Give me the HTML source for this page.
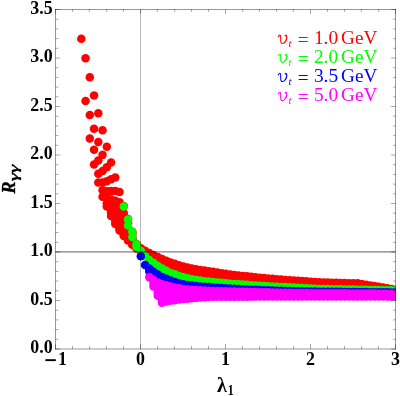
<!DOCTYPE html>
<html><head><meta charset="utf-8"><title>R gamma gamma vs lambda1</title>
<style>html,body{margin:0;padding:0;background:#fff;}body{width:400px;height:396px;overflow:hidden;font-family:"Liberation Serif",serif;}svg{display:block;will-change:transform;}</style></head>
<body>
<svg width="400" height="396" viewBox="0 0 400 396">
<defs><clipPath id="pc"><rect x="55" y="9" width="340.9" height="340.5"/></clipPath></defs>
<rect x="0" y="0" width="400" height="396" fill="#ffffff"/>
<g clip-path="url(#pc)">
<circle cx="81.3" cy="38.7" r="4.25" fill="#ff0000"/>
<circle cx="85.55" cy="58.3" r="4.25" fill="#ff0000"/>
<circle cx="89.8" cy="77.25" r="4.25" fill="#ff0000"/>
<circle cx="94.05" cy="95.57" r="4.25" fill="#ff0000"/>
<circle cx="98.3" cy="113.25" r="4.25" fill="#ff0000"/>
<circle cx="102.55" cy="130.29" r="4.25" fill="#ff0000"/>
<circle cx="106.8" cy="146.69" r="4.25" fill="#ff0000"/>
<circle cx="111.05" cy="162.45" r="4.25" fill="#ff0000"/>
<circle cx="115.3" cy="177.58" r="4.25" fill="#ff0000"/>
<circle cx="119.55" cy="192.06" r="4.25" fill="#ff0000"/>
<circle cx="123.8" cy="205.9" r="4.25" fill="#ff0000"/>
<circle cx="128.05" cy="219.11" r="4.25" fill="#ff0000"/>
<circle cx="132.3" cy="231.7" r="4.25" fill="#ff0000"/>
<circle cx="136.55" cy="244.3" r="4.25" fill="#ff0000"/>
<circle cx="85.55" cy="101" r="4.25" fill="#ff0000"/>
<circle cx="89.8" cy="115.09" r="4.25" fill="#ff0000"/>
<circle cx="94.05" cy="128.76" r="4.25" fill="#ff0000"/>
<circle cx="98.3" cy="142.02" r="4.25" fill="#ff0000"/>
<circle cx="102.55" cy="154.87" r="4.25" fill="#ff0000"/>
<circle cx="106.8" cy="167.31" r="4.25" fill="#ff0000"/>
<circle cx="111.05" cy="179.34" r="4.25" fill="#ff0000"/>
<circle cx="115.3" cy="190.96" r="4.25" fill="#ff0000"/>
<circle cx="119.55" cy="202.16" r="4.25" fill="#ff0000"/>
<circle cx="123.8" cy="212.95" r="4.25" fill="#ff0000"/>
<circle cx="128.05" cy="223.33" r="4.25" fill="#ff0000"/>
<circle cx="132.3" cy="233.3" r="4.25" fill="#ff0000"/>
<circle cx="136.55" cy="244.3" r="4.25" fill="#ff0000"/>
<circle cx="89.8" cy="138.6" r="4.25" fill="#ff0000"/>
<circle cx="94.05" cy="149.71" r="4.25" fill="#ff0000"/>
<circle cx="98.3" cy="160.51" r="4.25" fill="#ff0000"/>
<circle cx="102.55" cy="171.02" r="4.25" fill="#ff0000"/>
<circle cx="106.8" cy="181.22" r="4.25" fill="#ff0000"/>
<circle cx="111.05" cy="191.12" r="4.25" fill="#ff0000"/>
<circle cx="115.3" cy="200.72" r="4.25" fill="#ff0000"/>
<circle cx="119.55" cy="210.02" r="4.25" fill="#ff0000"/>
<circle cx="123.8" cy="219.02" r="4.25" fill="#ff0000"/>
<circle cx="128.05" cy="227.72" r="4.25" fill="#ff0000"/>
<circle cx="132.3" cy="236.11" r="4.25" fill="#ff0000"/>
<circle cx="136.55" cy="244.3" r="4.25" fill="#ff0000"/>
<circle cx="94.05" cy="164.6" r="4.25" fill="#ff0000"/>
<circle cx="98.3" cy="173.7" r="4.25" fill="#ff0000"/>
<circle cx="102.55" cy="182.56" r="4.25" fill="#ff0000"/>
<circle cx="106.8" cy="191.2" r="4.25" fill="#ff0000"/>
<circle cx="111.05" cy="199.6" r="4.25" fill="#ff0000"/>
<circle cx="115.3" cy="207.78" r="4.25" fill="#ff0000"/>
<circle cx="119.55" cy="215.72" r="4.25" fill="#ff0000"/>
<circle cx="123.8" cy="223.44" r="4.25" fill="#ff0000"/>
<circle cx="128.05" cy="230.92" r="4.25" fill="#ff0000"/>
<circle cx="132.3" cy="238.18" r="4.25" fill="#ff0000"/>
<circle cx="136.55" cy="245.2" r="4.25" fill="#ff0000"/>
<circle cx="98.3" cy="182.5" r="4.25" fill="#ff0000"/>
<circle cx="102.55" cy="190.29" r="4.25" fill="#ff0000"/>
<circle cx="106.8" cy="197.89" r="4.25" fill="#ff0000"/>
<circle cx="111.05" cy="205.31" r="4.25" fill="#ff0000"/>
<circle cx="115.3" cy="212.54" r="4.25" fill="#ff0000"/>
<circle cx="119.55" cy="219.58" r="4.25" fill="#ff0000"/>
<circle cx="123.8" cy="226.44" r="4.25" fill="#ff0000"/>
<circle cx="128.05" cy="233.11" r="4.25" fill="#ff0000"/>
<circle cx="132.3" cy="239.59" r="4.25" fill="#ff0000"/>
<circle cx="136.55" cy="245.89" r="4.25" fill="#ff0000"/>
<circle cx="102.55" cy="196.7" r="4.25" fill="#ff0000"/>
<circle cx="106.8" cy="203.46" r="4.25" fill="#ff0000"/>
<circle cx="111.05" cy="210.06" r="4.25" fill="#ff0000"/>
<circle cx="115.3" cy="216.51" r="4.25" fill="#ff0000"/>
<circle cx="119.55" cy="222.81" r="4.25" fill="#ff0000"/>
<circle cx="123.8" cy="228.96" r="4.25" fill="#ff0000"/>
<circle cx="128.05" cy="234.95" r="4.25" fill="#ff0000"/>
<circle cx="132.3" cy="240.78" r="4.25" fill="#ff0000"/>
<circle cx="136.55" cy="246.47" r="4.25" fill="#ff0000"/>
<circle cx="106.8" cy="206.4" r="4.25" fill="#ff0000"/>
<circle cx="111.05" cy="212.58" r="4.25" fill="#ff0000"/>
<circle cx="115.3" cy="218.62" r="4.25" fill="#ff0000"/>
<circle cx="119.55" cy="224.53" r="4.25" fill="#ff0000"/>
<circle cx="123.8" cy="230.29" r="4.25" fill="#ff0000"/>
<circle cx="128.05" cy="235.93" r="4.25" fill="#ff0000"/>
<circle cx="132.3" cy="241.42" r="4.25" fill="#ff0000"/>
<circle cx="136.55" cy="246.78" r="4.25" fill="#ff0000"/>
<circle cx="111.05" cy="215.9" r="4.25" fill="#ff0000"/>
<circle cx="115.3" cy="221.41" r="4.25" fill="#ff0000"/>
<circle cx="119.55" cy="226.8" r="4.25" fill="#ff0000"/>
<circle cx="123.8" cy="232.07" r="4.25" fill="#ff0000"/>
<circle cx="128.05" cy="237.23" r="4.25" fill="#ff0000"/>
<circle cx="132.3" cy="242.27" r="4.25" fill="#ff0000"/>
<circle cx="136.55" cy="247.19" r="4.25" fill="#ff0000"/>
<circle cx="115.3" cy="224.1" r="4.25" fill="#ff0000"/>
<circle cx="119.55" cy="228.99" r="4.25" fill="#ff0000"/>
<circle cx="123.8" cy="233.79" r="4.25" fill="#ff0000"/>
<circle cx="128.05" cy="238.49" r="4.25" fill="#ff0000"/>
<circle cx="132.3" cy="243.09" r="4.25" fill="#ff0000"/>
<circle cx="136.55" cy="247.59" r="4.25" fill="#ff0000"/>
<circle cx="119.55" cy="230.4" r="4.25" fill="#ff0000"/>
<circle cx="123.8" cy="234.89" r="4.25" fill="#ff0000"/>
<circle cx="128.05" cy="239.3" r="4.25" fill="#ff0000"/>
<circle cx="132.3" cy="243.62" r="4.25" fill="#ff0000"/>
<circle cx="136.55" cy="247.85" r="4.25" fill="#ff0000"/>
<circle cx="123.8" cy="236" r="4.25" fill="#ff0000"/>
<circle cx="128.05" cy="240.11" r="4.25" fill="#ff0000"/>
<circle cx="132.3" cy="244.15" r="4.25" fill="#ff0000"/>
<circle cx="136.55" cy="248.11" r="4.25" fill="#ff0000"/>
<circle cx="128.05" cy="240.5" r="4.25" fill="#ff0000"/>
<circle cx="132.3" cy="244.4" r="4.25" fill="#ff0000"/>
<circle cx="136.55" cy="248.24" r="4.25" fill="#ff0000"/>
<circle cx="132.3" cy="244.3" r="4.25" fill="#ff0000"/>
<circle cx="136.55" cy="248.19" r="4.25" fill="#ff0000"/>
<circle cx="136.55" cy="246" r="4.25" fill="#ff0000"/>
<rect x="136.55" y="243.98" width="8.5" height="11.28" rx="4.25" fill="#ff0000"/>
<rect x="140.8" y="246.48" width="8.5" height="13.86" rx="4.25" fill="#ff0000"/>
<rect x="145.05" y="248.8" width="8.5" height="15.35" rx="4.25" fill="#ff0000"/>
<rect x="149.3" y="250.88" width="8.5" height="25.11" rx="4.25" fill="#ff0000"/>
<rect x="153.55" y="252.8" width="8.5" height="26.01" rx="4.25" fill="#ff0000"/>
<rect x="157.8" y="254.64" width="8.5" height="26.64" rx="4.25" fill="#ff0000"/>
<rect x="162.05" y="256.4" width="8.5" height="26.5" rx="4.25" fill="#ff0000"/>
<rect x="166.3" y="258.14" width="8.5" height="26.7" rx="4.25" fill="#ff0000"/>
<rect x="170.55" y="259.43" width="8.5" height="26.7" rx="4.25" fill="#ff0000"/>
<rect x="174.8" y="260.96" width="8.5" height="26.63" rx="4.25" fill="#ff0000"/>
<rect x="179.05" y="262.2" width="8.5" height="26.32" rx="4.25" fill="#ff0000"/>
<rect x="183.3" y="263.29" width="8.5" height="25.95" rx="4.25" fill="#ff0000"/>
<rect x="187.55" y="264.26" width="8.5" height="25.59" rx="4.25" fill="#ff0000"/>
<rect x="191.8" y="265.01" width="8.5" height="25.29" rx="4.25" fill="#ff0000"/>
<rect x="196.05" y="265.74" width="8.5" height="24.98" rx="4.25" fill="#ff0000"/>
<rect x="200.3" y="266.34" width="8.5" height="24.73" rx="4.25" fill="#ff0000"/>
<rect x="204.55" y="266.98" width="8.5" height="24.39" rx="4.25" fill="#ff0000"/>
<rect x="208.8" y="267.62" width="8.5" height="24.04" rx="4.25" fill="#ff0000"/>
<rect x="213.05" y="268.27" width="8.5" height="23.7" rx="4.25" fill="#ff0000"/>
<rect x="217.3" y="268.91" width="8.5" height="23.35" rx="4.25" fill="#ff0000"/>
<rect x="221.55" y="269.56" width="8.5" height="23.01" rx="4.25" fill="#ff0000"/>
<rect x="225.8" y="270.2" width="8.5" height="22.66" rx="4.25" fill="#ff0000"/>
<rect x="230.05" y="270.75" width="8.5" height="22.36" rx="4.25" fill="#ff0000"/>
<rect x="234.3" y="271.2" width="8.5" height="22.1" rx="4.25" fill="#ff0000"/>
<rect x="238.55" y="271.66" width="8.5" height="21.84" rx="4.25" fill="#ff0000"/>
<rect x="242.8" y="272.11" width="8.5" height="21.59" rx="4.25" fill="#ff0000"/>
<rect x="247.05" y="272.57" width="8.5" height="21.33" rx="4.25" fill="#ff0000"/>
<rect x="251.3" y="273.02" width="8.5" height="21.07" rx="4.25" fill="#ff0000"/>
<rect x="255.55" y="273.48" width="8.5" height="20.81" rx="4.25" fill="#ff0000"/>
<rect x="259.8" y="273.85" width="8.5" height="20.6" rx="4.25" fill="#ff0000"/>
<rect x="264.05" y="274.21" width="8.5" height="20.39" rx="4.25" fill="#ff0000"/>
<rect x="268.3" y="274.58" width="8.5" height="20.17" rx="4.25" fill="#ff0000"/>
<rect x="272.55" y="274.94" width="8.5" height="19.96" rx="4.25" fill="#ff0000"/>
<rect x="276.8" y="275.3" width="8.5" height="19.75" rx="4.25" fill="#ff0000"/>
<rect x="281.05" y="275.67" width="8.5" height="19.54" rx="4.25" fill="#ff0000"/>
<rect x="285.3" y="276" width="8.5" height="19.33" rx="4.25" fill="#ff0000"/>
<rect x="289.55" y="276.28" width="8.5" height="19.13" rx="4.25" fill="#ff0000"/>
<rect x="293.8" y="276.56" width="8.5" height="18.93" rx="4.25" fill="#ff0000"/>
<rect x="298.05" y="276.84" width="8.5" height="18.73" rx="4.25" fill="#ff0000"/>
<rect x="302.3" y="277.12" width="8.5" height="18.53" rx="4.25" fill="#ff0000"/>
<rect x="306.55" y="277.4" width="8.5" height="18.33" rx="4.25" fill="#ff0000"/>
<rect x="310.8" y="277.68" width="8.5" height="18.13" rx="4.25" fill="#ff0000"/>
<rect x="315.05" y="277.95" width="8.5" height="17.93" rx="4.25" fill="#ff0000"/>
<rect x="319.3" y="278.13" width="8.5" height="17.8" rx="4.25" fill="#ff0000"/>
<rect x="323.55" y="278.28" width="8.5" height="17.69" rx="4.25" fill="#ff0000"/>
<rect x="327.8" y="278.44" width="8.5" height="17.57" rx="4.25" fill="#ff0000"/>
<rect x="332.05" y="278.59" width="8.5" height="17.46" rx="4.25" fill="#ff0000"/>
<rect x="336.3" y="278.75" width="8.5" height="17.34" rx="4.25" fill="#ff0000"/>
<rect x="340.55" y="278.84" width="8.5" height="17.3" rx="4.25" fill="#ff0000"/>
<rect x="344.8" y="278.89" width="8.5" height="17.29" rx="4.25" fill="#ff0000"/>
<rect x="349.05" y="278.94" width="8.5" height="17.29" rx="4.25" fill="#ff0000"/>
<rect x="353.3" y="278.99" width="8.5" height="17.28" rx="4.25" fill="#ff0000"/>
<rect x="357.55" y="279.66" width="8.5" height="16.66" rx="4.25" fill="#ff0000"/>
<rect x="361.8" y="280.4" width="8.5" height="15.97" rx="4.25" fill="#ff0000"/>
<rect x="366.05" y="281.13" width="8.5" height="15.29" rx="4.25" fill="#ff0000"/>
<rect x="370.3" y="281.87" width="8.5" height="14.6" rx="4.25" fill="#ff0000"/>
<rect x="374.55" y="282.61" width="8.5" height="13.91" rx="4.25" fill="#ff0000"/>
<rect x="378.8" y="283.34" width="8.5" height="13.22" rx="4.25" fill="#ff0000"/>
<rect x="383.05" y="284.08" width="8.5" height="12.53" rx="4.25" fill="#ff0000"/>
<rect x="387.3" y="284.82" width="8.5" height="11.84" rx="4.25" fill="#ff0000"/>
<rect x="391.55" y="285.5" width="8.5" height="11.2" rx="4.25" fill="#ff0000"/>
<circle cx="123.8" cy="206.4" r="4.25" fill="#00ff00"/>
<circle cx="128.05" cy="219.4" r="4.25" fill="#00ff00"/>
<circle cx="128.05" cy="225.5" r="4.25" fill="#00ff00"/>
<circle cx="132.3" cy="231.7" r="4.25" fill="#00ff00"/>
<circle cx="132.3" cy="236.9" r="4.25" fill="#00ff00"/>
<circle cx="136.55" cy="244.3" r="4.25" fill="#00ff00"/>
<circle cx="136.55" cy="246.8" r="4.25" fill="#00ff00"/>
<rect x="136.55" y="246.76" width="8.5" height="8.5" rx="4.25" fill="#00ff00"/>
<rect x="140.8" y="251.84" width="8.5" height="8.5" rx="4.25" fill="#00ff00"/>
<rect x="145.05" y="255.65" width="8.5" height="17.15" rx="4.25" fill="#00ff00"/>
<rect x="149.3" y="258.81" width="8.5" height="17.17" rx="4.25" fill="#00ff00"/>
<rect x="153.55" y="261.67" width="8.5" height="17.14" rx="4.25" fill="#00ff00"/>
<rect x="157.8" y="264.15" width="8.5" height="17.12" rx="4.25" fill="#00ff00"/>
<rect x="162.05" y="266.4" width="8.5" height="16.5" rx="4.25" fill="#00ff00"/>
<rect x="166.3" y="268.65" width="8.5" height="16.18" rx="4.25" fill="#00ff00"/>
<rect x="170.55" y="270.09" width="8.5" height="16.04" rx="4.25" fill="#00ff00"/>
<rect x="174.8" y="271.73" width="8.5" height="15.85" rx="4.25" fill="#00ff00"/>
<rect x="179.05" y="272.97" width="8.5" height="15.55" rx="4.25" fill="#00ff00"/>
<rect x="183.3" y="274.02" width="8.5" height="15.22" rx="4.25" fill="#00ff00"/>
<rect x="187.55" y="274.95" width="8.5" height="14.91" rx="4.25" fill="#00ff00"/>
<rect x="191.8" y="275.65" width="8.5" height="14.64" rx="4.25" fill="#00ff00"/>
<rect x="196.05" y="276.34" width="8.5" height="14.38" rx="4.25" fill="#00ff00"/>
<rect x="200.3" y="276.94" width="8.5" height="14.13" rx="4.25" fill="#00ff00"/>
<rect x="204.55" y="277.37" width="8.5" height="14" rx="4.25" fill="#00ff00"/>
<rect x="208.8" y="277.78" width="8.5" height="13.89" rx="4.25" fill="#00ff00"/>
<rect x="213.05" y="278.18" width="8.5" height="13.78" rx="4.25" fill="#00ff00"/>
<rect x="217.3" y="278.59" width="8.5" height="13.67" rx="4.25" fill="#00ff00"/>
<rect x="221.55" y="279" width="8.5" height="13.56" rx="4.25" fill="#00ff00"/>
<rect x="225.8" y="279.41" width="8.5" height="13.45" rx="4.25" fill="#00ff00"/>
<rect x="230.05" y="279.76" width="8.5" height="13.35" rx="4.25" fill="#00ff00"/>
<rect x="234.3" y="280.04" width="8.5" height="13.26" rx="4.25" fill="#00ff00"/>
<rect x="238.55" y="280.33" width="8.5" height="13.17" rx="4.25" fill="#00ff00"/>
<rect x="242.8" y="280.62" width="8.5" height="13.08" rx="4.25" fill="#00ff00"/>
<rect x="247.05" y="280.91" width="8.5" height="12.99" rx="4.25" fill="#00ff00"/>
<rect x="251.3" y="281.2" width="8.5" height="12.9" rx="4.25" fill="#00ff00"/>
<rect x="255.55" y="281.49" width="8.5" height="12.8" rx="4.25" fill="#00ff00"/>
<rect x="259.8" y="281.72" width="8.5" height="12.73" rx="4.25" fill="#00ff00"/>
<rect x="264.05" y="281.94" width="8.5" height="12.65" rx="4.25" fill="#00ff00"/>
<rect x="268.3" y="282.17" width="8.5" height="12.58" rx="4.25" fill="#00ff00"/>
<rect x="272.55" y="282.4" width="8.5" height="12.5" rx="4.25" fill="#00ff00"/>
<rect x="276.8" y="282.63" width="8.5" height="12.42" rx="4.25" fill="#00ff00"/>
<rect x="281.05" y="282.86" width="8.5" height="12.35" rx="4.25" fill="#00ff00"/>
<rect x="285.3" y="283.08" width="8.5" height="12.25" rx="4.25" fill="#00ff00"/>
<rect x="289.55" y="283.31" width="8.5" height="12.1" rx="4.25" fill="#00ff00"/>
<rect x="293.8" y="283.53" width="8.5" height="11.95" rx="4.25" fill="#00ff00"/>
<rect x="298.05" y="283.76" width="8.5" height="11.81" rx="4.25" fill="#00ff00"/>
<rect x="302.3" y="283.99" width="8.5" height="11.66" rx="4.25" fill="#00ff00"/>
<rect x="306.55" y="284.21" width="8.5" height="11.52" rx="4.25" fill="#00ff00"/>
<rect x="310.8" y="284.44" width="8.5" height="11.37" rx="4.25" fill="#00ff00"/>
<rect x="315.05" y="284.66" width="8.5" height="11.22" rx="4.25" fill="#00ff00"/>
<rect x="319.3" y="284.76" width="8.5" height="11.17" rx="4.25" fill="#00ff00"/>
<rect x="323.55" y="284.84" width="8.5" height="11.13" rx="4.25" fill="#00ff00"/>
<rect x="327.8" y="284.92" width="8.5" height="11.09" rx="4.25" fill="#00ff00"/>
<rect x="332.05" y="285" width="8.5" height="11.05" rx="4.25" fill="#00ff00"/>
<rect x="336.3" y="285.07" width="8.5" height="11.01" rx="4.25" fill="#00ff00"/>
<rect x="340.55" y="285.16" width="8.5" height="10.97" rx="4.25" fill="#00ff00"/>
<rect x="344.8" y="285.24" width="8.5" height="10.93" rx="4.25" fill="#00ff00"/>
<rect x="349.05" y="285.33" width="8.5" height="10.89" rx="4.25" fill="#00ff00"/>
<rect x="353.3" y="285.42" width="8.5" height="10.85" rx="4.25" fill="#00ff00"/>
<rect x="357.55" y="285.51" width="8.5" height="10.81" rx="4.25" fill="#00ff00"/>
<rect x="361.8" y="285.59" width="8.5" height="10.78" rx="4.25" fill="#00ff00"/>
<rect x="366.05" y="285.68" width="8.5" height="10.74" rx="4.25" fill="#00ff00"/>
<rect x="370.3" y="285.77" width="8.5" height="10.7" rx="4.25" fill="#00ff00"/>
<rect x="374.55" y="285.86" width="8.5" height="10.66" rx="4.25" fill="#00ff00"/>
<rect x="378.8" y="285.94" width="8.5" height="10.62" rx="4.25" fill="#00ff00"/>
<rect x="383.05" y="286.03" width="8.5" height="10.58" rx="4.25" fill="#00ff00"/>
<rect x="387.3" y="286.12" width="8.5" height="10.54" rx="4.25" fill="#00ff00"/>
<rect x="391.55" y="286.2" width="8.5" height="10.5" rx="4.25" fill="#00ff00"/>
<rect x="136.55" y="252.05" width="8.5" height="8.5" rx="4.25" fill="#0000ff"/>
<rect x="140.8" y="260.85" width="8.5" height="8.5" rx="4.25" fill="#0000ff"/>
<rect x="145.05" y="264.3" width="8.5" height="11.5" rx="4.25" fill="#0000ff"/>
<rect x="149.3" y="267.49" width="8.5" height="16.69" rx="4.25" fill="#0000ff"/>
<rect x="153.55" y="270.31" width="8.5" height="16.32" rx="4.25" fill="#0000ff"/>
<rect x="157.8" y="272.77" width="8.5" height="15.65" rx="4.25" fill="#0000ff"/>
<rect x="162.05" y="274.4" width="8.5" height="15.19" rx="4.25" fill="#0000ff"/>
<rect x="166.3" y="276.34" width="8.5" height="14.38" rx="4.25" fill="#0000ff"/>
<rect x="170.55" y="277.63" width="8.5" height="14.02" rx="4.25" fill="#0000ff"/>
<rect x="174.8" y="279.09" width="8.5" height="13.5" rx="4.25" fill="#0000ff"/>
<rect x="179.05" y="280.02" width="8.5" height="13.16" rx="4.25" fill="#0000ff"/>
<rect x="183.3" y="280.74" width="8.5" height="12.94" rx="4.25" fill="#0000ff"/>
<rect x="187.55" y="281.35" width="8.5" height="12.74" rx="4.25" fill="#0000ff"/>
<rect x="191.8" y="281.79" width="8.5" height="12.56" rx="4.25" fill="#0000ff"/>
<rect x="196.05" y="282.22" width="8.5" height="12.39" rx="4.25" fill="#0000ff"/>
<rect x="200.3" y="282.56" width="8.5" height="12.31" rx="4.25" fill="#0000ff"/>
<rect x="204.55" y="282.87" width="8.5" height="12.16" rx="4.25" fill="#0000ff"/>
<rect x="208.8" y="283.17" width="8.5" height="12" rx="4.25" fill="#0000ff"/>
<rect x="213.05" y="283.47" width="8.5" height="11.84" rx="4.25" fill="#0000ff"/>
<rect x="217.3" y="283.76" width="8.5" height="11.69" rx="4.25" fill="#0000ff"/>
<rect x="221.55" y="284.06" width="8.5" height="11.53" rx="4.25" fill="#0000ff"/>
<rect x="225.8" y="284.36" width="8.5" height="11.37" rx="4.25" fill="#0000ff"/>
<rect x="230.05" y="284.61" width="8.5" height="11.24" rx="4.25" fill="#0000ff"/>
<rect x="234.3" y="284.8" width="8.5" height="11.14" rx="4.25" fill="#0000ff"/>
<rect x="238.55" y="285" width="8.5" height="11.03" rx="4.25" fill="#0000ff"/>
<rect x="242.8" y="285.2" width="8.5" height="10.92" rx="4.25" fill="#0000ff"/>
<rect x="247.05" y="285.4" width="8.5" height="10.82" rx="4.25" fill="#0000ff"/>
<rect x="251.3" y="285.59" width="8.5" height="10.71" rx="4.25" fill="#0000ff"/>
<rect x="255.55" y="285.79" width="8.5" height="10.61" rx="4.25" fill="#0000ff"/>
<rect x="259.8" y="285.94" width="8.5" height="10.56" rx="4.25" fill="#0000ff"/>
<rect x="264.05" y="286.1" width="8.5" height="10.51" rx="4.25" fill="#0000ff"/>
<rect x="268.3" y="286.25" width="8.5" height="10.47" rx="4.25" fill="#0000ff"/>
<rect x="272.55" y="286.4" width="8.5" height="10.42" rx="4.25" fill="#0000ff"/>
<rect x="276.8" y="286.55" width="8.5" height="10.37" rx="4.25" fill="#0000ff"/>
<rect x="281.05" y="286.7" width="8.5" height="10.33" rx="4.25" fill="#0000ff"/>
<rect x="285.3" y="286.83" width="8.5" height="10.29" rx="4.25" fill="#0000ff"/>
<rect x="289.55" y="286.91" width="8.5" height="10.26" rx="4.25" fill="#0000ff"/>
<rect x="293.8" y="286.99" width="8.5" height="10.24" rx="4.25" fill="#0000ff"/>
<rect x="298.05" y="287.07" width="8.5" height="10.21" rx="4.25" fill="#0000ff"/>
<rect x="302.3" y="287.15" width="8.5" height="10.18" rx="4.25" fill="#0000ff"/>
<rect x="306.55" y="287.23" width="8.5" height="10.16" rx="4.25" fill="#0000ff"/>
<rect x="310.8" y="287.31" width="8.5" height="10.13" rx="4.25" fill="#0000ff"/>
<rect x="315.05" y="287.39" width="8.5" height="10.1" rx="4.25" fill="#0000ff"/>
<rect x="319.3" y="287.43" width="8.5" height="10.08" rx="4.25" fill="#0000ff"/>
<rect x="323.55" y="287.47" width="8.5" height="10.06" rx="4.25" fill="#0000ff"/>
<rect x="327.8" y="287.51" width="8.5" height="10.05" rx="4.25" fill="#0000ff"/>
<rect x="332.05" y="287.55" width="8.5" height="10.03" rx="4.25" fill="#0000ff"/>
<rect x="336.3" y="287.59" width="8.5" height="10.01" rx="4.25" fill="#0000ff"/>
<rect x="340.55" y="287.63" width="8.5" height="9.99" rx="4.25" fill="#0000ff"/>
<rect x="344.8" y="287.68" width="8.5" height="9.97" rx="4.25" fill="#0000ff"/>
<rect x="349.05" y="287.73" width="8.5" height="9.96" rx="4.25" fill="#0000ff"/>
<rect x="353.3" y="287.77" width="8.5" height="9.94" rx="4.25" fill="#0000ff"/>
<rect x="357.55" y="287.82" width="8.5" height="9.93" rx="4.25" fill="#0000ff"/>
<rect x="361.8" y="287.87" width="8.5" height="9.91" rx="4.25" fill="#0000ff"/>
<rect x="366.05" y="287.92" width="8.5" height="9.89" rx="4.25" fill="#0000ff"/>
<rect x="370.3" y="287.97" width="8.5" height="9.88" rx="4.25" fill="#0000ff"/>
<rect x="374.55" y="288.01" width="8.5" height="9.86" rx="4.25" fill="#0000ff"/>
<rect x="378.8" y="288.06" width="8.5" height="9.85" rx="4.25" fill="#0000ff"/>
<rect x="383.05" y="288.11" width="8.5" height="9.83" rx="4.25" fill="#0000ff"/>
<rect x="387.3" y="288.16" width="8.5" height="9.81" rx="4.25" fill="#0000ff"/>
<rect x="391.55" y="288.2" width="8.5" height="9.8" rx="4.25" fill="#0000ff"/>
<rect x="145.05" y="272.71" width="8.5" height="8.69" rx="4.25" fill="#ff00ff"/>
<rect x="149.3" y="275.68" width="8.5" height="15.03" rx="4.25" fill="#ff00ff"/>
<rect x="153.55" y="278.13" width="8.5" height="21.77" rx="4.25" fill="#ff00ff"/>
<rect x="157.8" y="279.92" width="8.5" height="27.13" rx="4.25" fill="#ff00ff"/>
<rect x="162.05" y="281.09" width="8.5" height="24.61" rx="4.25" fill="#ff00ff"/>
<rect x="166.3" y="282.22" width="8.5" height="22.79" rx="4.25" fill="#ff00ff"/>
<rect x="170.55" y="283.16" width="8.5" height="21.24" rx="4.25" fill="#ff00ff"/>
<rect x="174.8" y="284.09" width="8.5" height="19.7" rx="4.25" fill="#ff00ff"/>
<rect x="179.05" y="284.68" width="8.5" height="18.64" rx="4.25" fill="#ff00ff"/>
<rect x="183.3" y="285.18" width="8.5" height="17.72" rx="4.25" fill="#ff00ff"/>
<rect x="187.55" y="285.59" width="8.5" height="16.9" rx="4.25" fill="#ff00ff"/>
<rect x="191.8" y="285.85" width="8.5" height="16.27" rx="4.25" fill="#ff00ff"/>
<rect x="196.05" y="286.11" width="8.5" height="15.65" rx="4.25" fill="#ff00ff"/>
<rect x="200.3" y="286.37" width="8.5" height="15.02" rx="4.25" fill="#ff00ff"/>
<rect x="204.55" y="286.53" width="8.5" height="14.67" rx="4.25" fill="#ff00ff"/>
<rect x="208.8" y="286.67" width="8.5" height="14.36" rx="4.25" fill="#ff00ff"/>
<rect x="213.05" y="286.81" width="8.5" height="14.13" rx="4.25" fill="#ff00ff"/>
<rect x="217.3" y="286.95" width="8.5" height="13.98" rx="4.25" fill="#ff00ff"/>
<rect x="221.55" y="287.09" width="8.5" height="13.83" rx="4.25" fill="#ff00ff"/>
<rect x="225.8" y="287.24" width="8.5" height="13.68" rx="4.25" fill="#ff00ff"/>
<rect x="230.05" y="287.35" width="8.5" height="13.56" rx="4.25" fill="#ff00ff"/>
<rect x="234.3" y="287.44" width="8.5" height="13.46" rx="4.25" fill="#ff00ff"/>
<rect x="238.55" y="287.53" width="8.5" height="13.36" rx="4.25" fill="#ff00ff"/>
<rect x="242.8" y="287.62" width="8.5" height="13.26" rx="4.25" fill="#ff00ff"/>
<rect x="247.05" y="287.71" width="8.5" height="13.16" rx="4.25" fill="#ff00ff"/>
<rect x="251.3" y="287.8" width="8.5" height="13.06" rx="4.25" fill="#ff00ff"/>
<rect x="255.55" y="287.9" width="8.5" height="12.95" rx="4.25" fill="#ff00ff"/>
<rect x="259.8" y="288" width="8.5" height="12.84" rx="4.25" fill="#ff00ff"/>
<rect x="264.05" y="288.11" width="8.5" height="12.73" rx="4.25" fill="#ff00ff"/>
<rect x="268.3" y="288.21" width="8.5" height="12.62" rx="4.25" fill="#ff00ff"/>
<rect x="272.55" y="288.32" width="8.5" height="12.51" rx="4.25" fill="#ff00ff"/>
<rect x="276.8" y="288.43" width="8.5" height="12.39" rx="4.25" fill="#ff00ff"/>
<rect x="281.05" y="288.53" width="8.5" height="12.28" rx="4.25" fill="#ff00ff"/>
<rect x="285.3" y="288.62" width="8.5" height="12.19" rx="4.25" fill="#ff00ff"/>
<rect x="289.55" y="288.67" width="8.5" height="12.13" rx="4.25" fill="#ff00ff"/>
<rect x="293.8" y="288.73" width="8.5" height="12.07" rx="4.25" fill="#ff00ff"/>
<rect x="298.05" y="288.78" width="8.5" height="12.01" rx="4.25" fill="#ff00ff"/>
<rect x="302.3" y="288.83" width="8.5" height="11.95" rx="4.25" fill="#ff00ff"/>
<rect x="306.55" y="288.88" width="8.5" height="11.89" rx="4.25" fill="#ff00ff"/>
<rect x="310.8" y="288.94" width="8.5" height="11.83" rx="4.25" fill="#ff00ff"/>
<rect x="315.05" y="288.99" width="8.5" height="11.77" rx="4.25" fill="#ff00ff"/>
<rect x="319.3" y="289.02" width="8.5" height="11.74" rx="4.25" fill="#ff00ff"/>
<rect x="323.55" y="289.04" width="8.5" height="11.71" rx="4.25" fill="#ff00ff"/>
<rect x="327.8" y="289.05" width="8.5" height="11.69" rx="4.25" fill="#ff00ff"/>
<rect x="332.05" y="289.07" width="8.5" height="11.66" rx="4.25" fill="#ff00ff"/>
<rect x="336.3" y="289.09" width="8.5" height="11.64" rx="4.25" fill="#ff00ff"/>
<rect x="340.55" y="289.12" width="8.5" height="11.6" rx="4.25" fill="#ff00ff"/>
<rect x="344.8" y="289.15" width="8.5" height="11.57" rx="4.25" fill="#ff00ff"/>
<rect x="349.05" y="289.18" width="8.5" height="11.53" rx="4.25" fill="#ff00ff"/>
<rect x="353.3" y="289.22" width="8.5" height="11.49" rx="4.25" fill="#ff00ff"/>
<rect x="357.55" y="289.25" width="8.5" height="11.45" rx="4.25" fill="#ff00ff"/>
<rect x="361.8" y="289.28" width="8.5" height="11.41" rx="4.25" fill="#ff00ff"/>
<rect x="366.05" y="289.31" width="8.5" height="11.38" rx="4.25" fill="#ff00ff"/>
<rect x="370.3" y="289.34" width="8.5" height="11.34" rx="4.25" fill="#ff00ff"/>
<rect x="374.55" y="289.38" width="8.5" height="11.3" rx="4.25" fill="#ff00ff"/>
<rect x="378.8" y="289.41" width="8.5" height="11.26" rx="4.25" fill="#ff00ff"/>
<rect x="383.05" y="289.44" width="8.5" height="11.22" rx="4.25" fill="#ff00ff"/>
<rect x="387.3" y="289.47" width="8.5" height="11.19" rx="4.25" fill="#ff00ff"/>
<rect x="391.55" y="289.5" width="8.5" height="11.15" rx="4.25" fill="#ff00ff"/>
</g>
<line x1="55.5" y1="251.85" x2="395.5" y2="251.85" stroke="#000" stroke-opacity="0.5" stroke-width="1.4"/>
<line x1="140.5" y1="9.5" x2="140.5" y2="349" stroke="#000" stroke-opacity="0.5" stroke-width="0.55"/>
<path d="M55.5 349v-4.8M55.5 9.5v4.3M72.5 349v-2.8M72.5 9.5v2.3M89.5 349v-2.8M89.5 9.5v2.3M106.5 349v-2.8M106.5 9.5v2.3M123.5 349v-2.8M123.5 9.5v2.3M140.5 349v-4.8M140.5 9.5v4.3M157.5 349v-2.8M157.5 9.5v2.3M174.5 349v-2.8M174.5 9.5v2.3M191.5 349v-2.8M191.5 9.5v2.3M208.5 349v-2.8M208.5 9.5v2.3M225.5 349v-4.8M225.5 9.5v4.3M242.5 349v-2.8M242.5 9.5v2.3M259.5 349v-2.8M259.5 9.5v2.3M276.5 349v-2.8M276.5 9.5v2.3M293.5 349v-2.8M293.5 9.5v2.3M310.5 349v-4.8M310.5 9.5v4.3M327.5 349v-2.8M327.5 9.5v2.3M344.5 349v-2.8M344.5 9.5v2.3M361.5 349v-2.8M361.5 9.5v2.3M378.5 349v-2.8M378.5 9.5v2.3M395.5 349v-4.8M395.5 9.5v4.3M55.5 349h4.8M395.5 349h-4.3M55.5 339.3h2.8M395.5 339.3h-2.3M55.5 329.6h2.8M395.5 329.6h-2.3M55.5 319.9h2.8M395.5 319.9h-2.3M55.5 310.2h2.8M395.5 310.2h-2.3M55.5 300.5h4.8M395.5 300.5h-4.3M55.5 290.8h2.8M395.5 290.8h-2.3M55.5 281.1h2.8M395.5 281.1h-2.3M55.5 271.4h2.8M395.5 271.4h-2.3M55.5 261.7h2.8M395.5 261.7h-2.3M55.5 252h4.8M395.5 252h-4.3M55.5 242.3h2.8M395.5 242.3h-2.3M55.5 232.6h2.8M395.5 232.6h-2.3M55.5 222.9h2.8M395.5 222.9h-2.3M55.5 213.2h2.8M395.5 213.2h-2.3M55.5 203.5h4.8M395.5 203.5h-4.3M55.5 193.8h2.8M395.5 193.8h-2.3M55.5 184.1h2.8M395.5 184.1h-2.3M55.5 174.4h2.8M395.5 174.4h-2.3M55.5 164.7h2.8M395.5 164.7h-2.3M55.5 155h4.8M395.5 155h-4.3M55.5 145.3h2.8M395.5 145.3h-2.3M55.5 135.6h2.8M395.5 135.6h-2.3M55.5 125.9h2.8M395.5 125.9h-2.3M55.5 116.2h2.8M395.5 116.2h-2.3M55.5 106.5h4.8M395.5 106.5h-4.3M55.5 96.8h2.8M395.5 96.8h-2.3M55.5 87.1h2.8M395.5 87.1h-2.3M55.5 77.4h2.8M395.5 77.4h-2.3M55.5 67.7h2.8M395.5 67.7h-2.3M55.5 58h4.8M395.5 58h-4.3M55.5 48.3h2.8M395.5 48.3h-2.3M55.5 38.6h2.8M395.5 38.6h-2.3M55.5 28.9h2.8M395.5 28.9h-2.3M55.5 19.2h2.8M395.5 19.2h-2.3M55.5 9.5h4.8M395.5 9.5h-4.3" stroke="#000" stroke-opacity="0.47" stroke-width="0.75" fill="none"/>
<line x1="55" y1="9.5" x2="396" y2="9.5" stroke="#000" stroke-opacity="0.4" stroke-width="1"/>
<line x1="55" y1="349" x2="396" y2="349" stroke="#000" stroke-opacity="0.4" stroke-width="1"/>
<line x1="55.5" y1="9" x2="55.5" y2="349.5" stroke="#000" stroke-opacity="0.4" stroke-width="1"/>
<line x1="395.5" y1="9" x2="395.5" y2="349.5" stroke="#000" stroke-opacity="0.4" stroke-width="1"/>
<g font-family="'Liberation Serif', serif" font-weight="bold" font-size="17.9" fill="#000">
<text transform="translate(52.6,353.4) scale(1,1.03)" text-anchor="end">0.0</text>
<text transform="translate(52.6,304.9) scale(1,1.03)" text-anchor="end">0.5</text>
<text transform="translate(52.6,256.4) scale(1,1.03)" text-anchor="end">1.0</text>
<text transform="translate(52.6,207.9) scale(1,1.03)" text-anchor="end">1.5</text>
<text transform="translate(52.6,159.4) scale(1,1.03)" text-anchor="end">2.0</text>
<text transform="translate(52.6,110.9) scale(1,1.03)" text-anchor="end">2.5</text>
<text transform="translate(52.6,62.4) scale(1,1.03)" text-anchor="end">3.0</text>
<text transform="translate(52.6,13.9) scale(1,1.03)" text-anchor="end">3.5</text>
<text transform="translate(140.5,364.8) scale(1,1.03)" text-anchor="middle">0</text>
<text transform="translate(225.5,364.8) scale(1,1.03)" text-anchor="middle">1</text>
<text transform="translate(310.5,364.8) scale(1,1.03)" text-anchor="middle">2</text>
<text transform="translate(395.5,364.8) scale(1,1.03)" text-anchor="middle">3</text>
<text transform="translate(62.4,364.8) scale(1,1.03)" text-anchor="middle">1</text>
<rect x="45.4" y="359.2" width="10.4" height="1.9" fill="#000"/>
</g>
<g font-family="'Liberation Serif', serif" font-weight="bold" fill="#000">
<text x="216.9" y="391.8" font-size="20">λ</text>
<text transform="translate(227.7,394.5) scale(0.85,1)" font-size="14">1</text>
<text transform="translate(15.4,193.4) rotate(-90)" font-size="18" font-style="italic" stroke="#000" stroke-width="0.35">R</text>
<text transform="translate(18.4,181.3) rotate(-90) scale(1.58,1)" font-size="13.5" font-style="italic" font-weight="normal" stroke="#000" stroke-width="0.35">γγ</text>
</g>
<g font-family="'Liberation Serif', serif" font-size="18.3">
<g fill="#ff0000">
<path transform="translate(278,43.7)" d="M0.3,-6.9C0.8,-8.1 1.3,-8.6 1.8,-8.6C2.4,-8.6 2.65,-8.1 2.65,-7.2L2.7,-3C2.7,-1.3 3.3,-0.25 4.5,-0.25C6.4,-0.25 8.9,-3.2 8.9,-6.3C8.9,-7.7 8.6,-8.6 7.9,-8.6C7.4,-8.6 7.1,-8.2 7.2,-7.6" fill="none" stroke="#ff0000" stroke-width="1.05" stroke-linecap="round" stroke-linejoin="round"/>
<path transform="translate(278,43.7)" d="M8.9,-6.3C8.9,-7.7 8.6,-8.6 7.9,-8.6C8.3,-7.9 8.3,-6.9 8.1,-5.8C7.8,-4.3 7,-2.6 5.9,-1.2C7.6,-2.3 8.9,-4.4 8.9,-6.3Z" fill="#ff0000"/>
<text x="288.5" y="46.6" font-style="italic" font-size="11">t</text>
<text transform="translate(297.8,45.6) scale(1.06,1)">=</text>
<text transform="translate(313.9,43.7) scale(1.06,1)">1.0</text>
<text transform="translate(377.3,43.7) scale(1.05,1)" text-anchor="end">GeV</text>
</g>
<g fill="#00ff00">
<path transform="translate(278,62.77)" d="M0.3,-6.9C0.8,-8.1 1.3,-8.6 1.8,-8.6C2.4,-8.6 2.65,-8.1 2.65,-7.2L2.7,-3C2.7,-1.3 3.3,-0.25 4.5,-0.25C6.4,-0.25 8.9,-3.2 8.9,-6.3C8.9,-7.7 8.6,-8.6 7.9,-8.6C7.4,-8.6 7.1,-8.2 7.2,-7.6" fill="none" stroke="#00ff00" stroke-width="1.05" stroke-linecap="round" stroke-linejoin="round"/>
<path transform="translate(278,62.77)" d="M8.9,-6.3C8.9,-7.7 8.6,-8.6 7.9,-8.6C8.3,-7.9 8.3,-6.9 8.1,-5.8C7.8,-4.3 7,-2.6 5.9,-1.2C7.6,-2.3 8.9,-4.4 8.9,-6.3Z" fill="#00ff00"/>
<text x="288.5" y="65.67" font-style="italic" font-size="11">t</text>
<text transform="translate(297.8,64.67) scale(1.06,1)">=</text>
<text transform="translate(313.9,62.77) scale(1.06,1)">2.0</text>
<text transform="translate(377.3,62.77) scale(1.05,1)" text-anchor="end">GeV</text>
</g>
<g fill="#0000ff">
<path transform="translate(278,81.84)" d="M0.3,-6.9C0.8,-8.1 1.3,-8.6 1.8,-8.6C2.4,-8.6 2.65,-8.1 2.65,-7.2L2.7,-3C2.7,-1.3 3.3,-0.25 4.5,-0.25C6.4,-0.25 8.9,-3.2 8.9,-6.3C8.9,-7.7 8.6,-8.6 7.9,-8.6C7.4,-8.6 7.1,-8.2 7.2,-7.6" fill="none" stroke="#0000ff" stroke-width="1.05" stroke-linecap="round" stroke-linejoin="round"/>
<path transform="translate(278,81.84)" d="M8.9,-6.3C8.9,-7.7 8.6,-8.6 7.9,-8.6C8.3,-7.9 8.3,-6.9 8.1,-5.8C7.8,-4.3 7,-2.6 5.9,-1.2C7.6,-2.3 8.9,-4.4 8.9,-6.3Z" fill="#0000ff"/>
<text x="288.5" y="84.74" font-style="italic" font-size="11">t</text>
<text transform="translate(297.8,83.74) scale(1.06,1)">=</text>
<text transform="translate(313.9,81.84) scale(1.06,1)">3.5</text>
<text transform="translate(377.3,81.84) scale(1.05,1)" text-anchor="end">GeV</text>
</g>
<g fill="#ff00ff">
<path transform="translate(278,100.91)" d="M0.3,-6.9C0.8,-8.1 1.3,-8.6 1.8,-8.6C2.4,-8.6 2.65,-8.1 2.65,-7.2L2.7,-3C2.7,-1.3 3.3,-0.25 4.5,-0.25C6.4,-0.25 8.9,-3.2 8.9,-6.3C8.9,-7.7 8.6,-8.6 7.9,-8.6C7.4,-8.6 7.1,-8.2 7.2,-7.6" fill="none" stroke="#ff00ff" stroke-width="1.05" stroke-linecap="round" stroke-linejoin="round"/>
<path transform="translate(278,100.91)" d="M8.9,-6.3C8.9,-7.7 8.6,-8.6 7.9,-8.6C8.3,-7.9 8.3,-6.9 8.1,-5.8C7.8,-4.3 7,-2.6 5.9,-1.2C7.6,-2.3 8.9,-4.4 8.9,-6.3Z" fill="#ff00ff"/>
<text x="288.5" y="103.81" font-style="italic" font-size="11">t</text>
<text transform="translate(297.8,102.81) scale(1.06,1)">=</text>
<text transform="translate(313.9,100.91) scale(1.06,1)">5.0</text>
<text transform="translate(377.3,100.91) scale(1.05,1)" text-anchor="end">GeV</text>
</g>
</g>
</svg>
</body></html>
